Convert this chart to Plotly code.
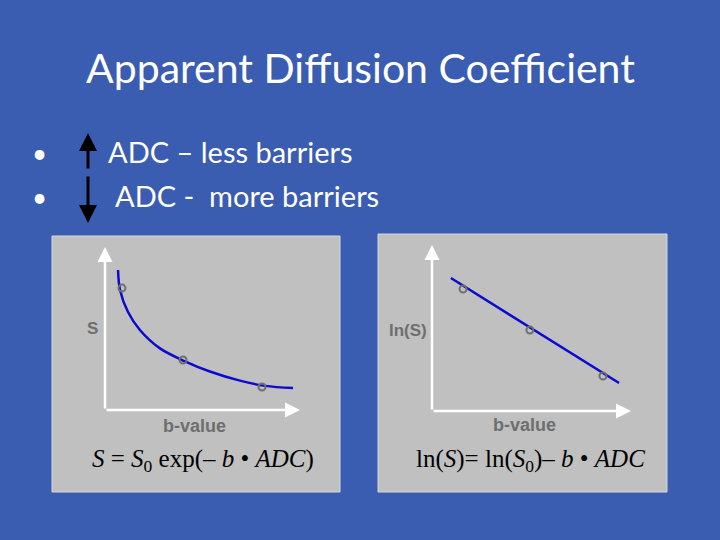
import plotly.graph_objects as go

# left panel: S vs b-value (exponential decay)
curve_b = [0.67, 0.77, 1.18, 1.79, 2.82, 4.10, 5.38, 6.92, 8.21, 9.64]
curve_s = [8.59, 7.36, 6.01, 4.91, 3.78, 2.99, 2.36, 1.80, 1.48, 1.35]
pts_b = [0.87, 4.0, 8.05]
pts_s = [7.48, 3.07, 1.41]

# right panel: ln(S) vs b-value
line_b = [0.95, 9.40]
line_lns = [8.01, 1.69]
pts2_b = [1.56, 4.92, 8.59]
pts2_lns = [7.35, 4.88, 2.11]

BG = "#3a5cb1"
PANEL = "#c0c0c0"
BLUE = "#0a0ad0"
GREY = "#6e6e6e"

fig = go.Figure()
fig.add_trace(go.Scatter(x=curve_b, y=curve_s, mode="lines", line=dict(color=BLUE, width=2.5, shape="spline"),
                         xaxis="x", yaxis="y"))
fig.add_trace(go.Scatter(x=pts_b, y=pts_s, mode="markers", marker=dict(symbol="circle-open", size=7, color=GREY, line=dict(width=2)),
                         xaxis="x", yaxis="y"))
fig.add_trace(go.Scatter(x=line_b, y=line_lns, mode="lines", line=dict(color=BLUE, width=2.5),
                         xaxis="x2", yaxis="y2"))
fig.add_trace(go.Scatter(x=pts2_b, y=pts2_lns, mode="markers", marker=dict(symbol="circle-open", size=7, color=GREY, line=dict(width=2)),
                         xaxis="x2", yaxis="y2"))

ax = dict(range=[0, 10], showgrid=False, zeroline=False, showticklabels=False, showline=False, fixedrange=True)
fig.update_layout(
    width=720, height=540, margin=dict(l=0, r=0, t=0, b=0),
    paper_bgcolor=BG, plot_bgcolor="rgba(0,0,0,0)", showlegend=False,
    xaxis=dict(ax, domain=[105/720, 300/720]),
    yaxis=dict(ax, domain=[130/540, 293/540]),
    xaxis2=dict(ax, domain=[432/720, 631/720]),
    yaxis2=dict(ax, domain=[129/540, 295/540]),
    shapes=[
        dict(type="rect", xref="paper", yref="paper", x0=52/720, x1=340/720, y0=48/540, y1=304/540,
             fillcolor=PANEL, line=dict(color="#d8d8d8", width=1), layer="below"),
        dict(type="rect", xref="paper", yref="paper", x0=378/720, x1=667/720, y0=48/540, y1=306/540,
             fillcolor=PANEL, line=dict(color="#d8d8d8", width=1), layer="below"),
    ],
)

ann = []
# axis arrows
for xr, yr in (("x", "y"), ("x2", "y2")):
    for (x0, y0, x1, y1) in ((0, 0, 10, 0), (0, 0, 0, 10)):
        ann.append(dict(x=x1, y=y1, ax=x0, ay=y0, xref=xr, yref=yr, axref=xr, ayref=yr, text="",
                        showarrow=True, arrowhead=2, arrowsize=1.2, arrowwidth=2.5, arrowcolor="white"))
# bullet arrows (tail offset in pixels)
ann.append(dict(x=88/720, y=(540-133)/540, ax=0, ay=37, xref="paper", yref="paper",
                text="", showarrow=True, arrowhead=2, arrowsize=1.2, arrowwidth=3, arrowcolor="black"))
ann.append(dict(x=88/720, y=(540-223)/540, ax=0, ay=-48, xref="paper", yref="paper",
                text="", showarrow=True, arrowhead=2, arrowsize=1.2, arrowwidth=3, arrowcolor="black"))

def txt(x, y, s, size, color="white", family="Lato, Open Sans, sans-serif", anchor="left"):
    ann.append(dict(x=x/720, y=(540-y)/540, xref="paper", yref="paper", text=s, showarrow=False,
                    xanchor=anchor, yanchor="middle", font=dict(size=size, color=color, family=family)))

txt(360, 68, "Apparent Diffusion Coefficient", 41, anchor="center")
txt(30, 153, "•", 26)
txt(30, 197, "•", 26)
txt(106, 151, "ADC – less barriers", 29)
txt(113, 196, "ADC -  more barriers", 29)
sans = "Liberation Sans, Arial, sans-serif"
txt(92, 328, "<b>S</b>", 17, GREY, sans, "center")
txt(408, 330, "<b>ln(S)</b>", 17, GREY, sans, "center")
txt(194, 426, "<b>b-value</b>", 18, GREY, sans, "center")
txt(524, 425, "<b>b-value</b>", 18, GREY, sans, "center")
serif = "Liberation Serif, Times New Roman, serif"
txt(203, 460, "<i>S</i> = <i>S</i><sub>0</sub> exp(– <i>b</i> • <i>ADC</i>)", 25, "black", serif, "center")
txt(530, 460, "ln(<i>S</i>)= ln(<i>S</i><sub>0</sub>)– <i>b</i> • <i>ADC</i>", 25, "black", serif, "center")

fig.update_layout(annotations=ann)
fig.write_html("out.html", config={"displayModeBar": False},
               post_script="document.body.style.margin='0';")
